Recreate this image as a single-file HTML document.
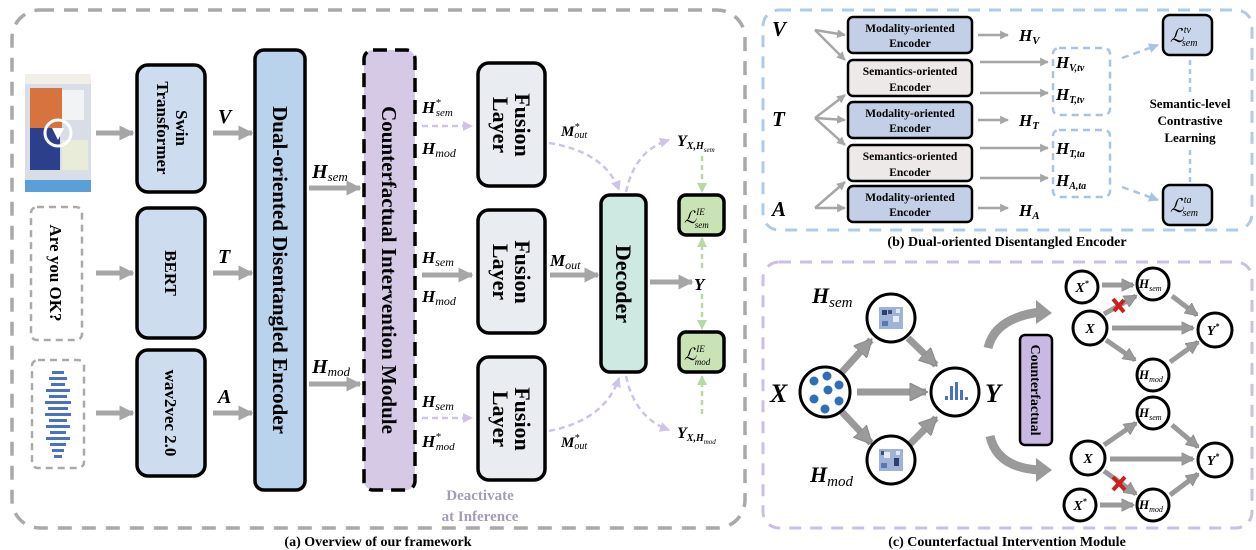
<!DOCTYPE html>
<html><head><meta charset="utf-8"><style>
html,body{margin:0;padding:0;background:#fff;}
svg{display:block;font-family:"Liberation Serif",serif;}
.b{font-weight:bold;}
.m{font-style:italic;font-weight:bold;}
</style></head><body>
<svg width="1256" height="550" viewBox="0 0 1256 550" xmlns="http://www.w3.org/2000/svg">
<defs>
<marker id="ah" viewBox="0 0 10 10" refX="9" refY="5" markerWidth="3" markerHeight="3" orient="auto"><path d="M0,0L10,5L0,10z" fill="#a6a6a6"/></marker>
<marker id="ah2" viewBox="0 0 10 10" refX="9" refY="5" markerWidth="2.6" markerHeight="2.6" orient="auto"><path d="M0,0L10,5L0,10z" fill="#9a9a9a" stroke="#888" stroke-width="0.6"/></marker>
<marker id="ap" viewBox="0 0 10 10" refX="9" refY="5" markerWidth="4" markerHeight="4" orient="auto"><path d="M0,0L10,5L0,10z" fill="#cfc3e6"/></marker>
<marker id="ag" viewBox="0 0 10 10" refX="9" refY="5" markerWidth="4" markerHeight="4" orient="auto"><path d="M0,0L10,5L0,10z" fill="#b7d9a4"/></marker>
<marker id="ab" viewBox="0 0 10 10" refX="9" refY="5" markerWidth="4" markerHeight="4" orient="auto"><path d="M0,0L10,5L0,10z" fill="#a9c4e2"/></marker>
<marker id="as" viewBox="0 0 10 10" refX="9" refY="5" markerWidth="3.5" markerHeight="3.5" orient="auto"><path d="M0,0L10,5L0,10z" fill="#a6a6a6"/></marker>
</defs>

<!-- Panels -->
<rect x="12" y="10" width="733" height="518" rx="28" fill="none" stroke="#a9a9a9" stroke-width="3.5" stroke-dasharray="14,10"/>
<rect x="763" y="10" width="489" height="220" rx="16" fill="none" stroke="#b0cbe8" stroke-width="3" stroke-dasharray="12,9"/>
<rect x="763" y="262" width="489" height="266" rx="16" fill="none" stroke="#cdbfe3" stroke-width="3" stroke-dasharray="12,9"/>
<text x="378" y="546" text-anchor="middle" class="b" font-size="14">(a) Overview of our framework</text>
<text x="1007" y="246" text-anchor="middle" class="b" font-size="14">(b) Dual-oriented Disentangled Encoder</text>
<text x="1007" y="546" text-anchor="middle" class="b" font-size="14">(c) Counterfactual Intervention Module</text>

<!-- Inputs -->
<rect x="25" y="74" width="66" height="118" fill="#d8dde6"/>
<rect x="25" y="74" width="66" height="10" fill="#f2eee8"/>
<rect x="30" y="88" width="32" height="40" fill="#d6733e"/>
<rect x="30" y="128" width="30" height="42" fill="#2c3f8a"/>
<rect x="62" y="90" width="22" height="30" fill="#f1f3f5"/>
<rect x="62" y="140" width="26" height="30" fill="#e8ecd8"/>
<rect x="25" y="180" width="66" height="12" fill="#5aa0d8"/>
<circle cx="58" cy="133" r="13" fill="none" stroke="#fff" stroke-width="3"/>
<path d="M52,128L64,128L58,140z" fill="#fff"/>
<rect x="31" y="207" width="51" height="133" rx="6" fill="none" stroke="#aaa" stroke-width="2.5" stroke-dasharray="7,5"/>
<text transform="translate(50,273) rotate(90)" text-anchor="middle" class="b" font-size="17">Are you OK?</text>
<rect x="32" y="360" width="52" height="108" rx="6" fill="none" stroke="#aaa" stroke-width="2.5" stroke-dasharray="7,5"/>
<g fill="#4a72c4">
<rect x="52" y="371" width="12" height="3"/><rect x="49" y="377" width="18" height="3"/><rect x="51" y="383" width="14" height="3"/><rect x="46" y="389" width="24" height="3"/><rect x="49" y="395" width="18" height="3"/><rect x="45" y="401" width="26" height="3"/><rect x="48" y="407" width="20" height="3"/><rect x="45" y="413" width="26" height="3"/><rect x="49" y="419" width="18" height="3"/><rect x="46" y="425" width="24" height="3"/><rect x="50" y="431" width="16" height="3"/><rect x="46" y="437" width="24" height="3"/><rect x="50" y="443" width="16" height="3"/><rect x="52" y="449" width="12" height="3"/><rect x="54" y="455" width="8" height="3"/>
</g>
<g stroke="#a6a6a6" stroke-width="5" marker-end="url(#ah)">
<line x1="96" y1="133" x2="133" y2="133"/><line x1="96" y1="273" x2="133" y2="273"/><line x1="96" y1="413" x2="133" y2="413"/>
<line x1="213" y1="133" x2="252" y2="133"/><line x1="213" y1="273" x2="252" y2="273"/><line x1="213" y1="413" x2="252" y2="413"/>
<line x1="309" y1="188" x2="360" y2="188"/><line x1="309" y1="384" x2="360" y2="384"/>
<line x1="422" y1="275" x2="472" y2="275"/><line x1="550" y1="275" x2="598" y2="275"/><line x1="650" y1="282" x2="692" y2="282"/>
</g>
<g stroke="#000" stroke-width="3.5">
<rect x="137" y="65" width="68" height="127" rx="11" fill="#cddcef"/>
<rect x="137" y="208" width="68" height="130" rx="11" fill="#cddcef"/>
<rect x="137" y="350" width="68" height="126" rx="11" fill="#cddcef"/>
<rect x="255" y="50" width="50" height="440" rx="9" fill="#b9d3ec"/>
<rect x="478" y="63" width="67" height="123" rx="11" fill="#e9edf2"/>
<rect x="478" y="210" width="67" height="123" rx="11" fill="#e9edf2"/>
<rect x="478" y="357" width="67" height="123" rx="11" fill="#e9edf2"/>
<rect x="601" y="195" width="45" height="177" rx="9" fill="#cde9e2"/>
<rect x="679" y="195" width="45" height="40" rx="7" fill="#c9e3b5"/>
<rect x="679" y="332" width="45" height="40" rx="7" fill="#c9e3b5"/>
</g>
<rect x="364" y="50" width="51" height="440" rx="9" fill="#d6c9e6" stroke="#000" stroke-width="3.5" stroke-dasharray="14,8"/>
<g class="b" font-size="17" text-anchor="middle">
<text transform="translate(171,128) rotate(90)"><tspan x="0" y="-5">Swin</tspan><tspan x="0" y="14">Transformer</tspan></text>
<text transform="translate(171,273) rotate(90)" y="6">BERT</text>
<text transform="translate(171,413) rotate(90)" y="6">wav2vec 2.0</text>
</g>
<text transform="translate(280,270) rotate(90)" text-anchor="middle" y="7" class="b" font-size="21">Dual-oriented Disentangled Encoder</text>
<text transform="translate(389,270) rotate(90)" text-anchor="middle" y="7" class="b" font-size="21">Counterfactual Intervention Module</text>
<g class="b" font-size="22" text-anchor="middle">
<text transform="translate(511,125) rotate(90)"><tspan x="0" y="-4">Fusion</tspan><tspan x="0" y="18">Layer</tspan></text>
<text transform="translate(511,272) rotate(90)"><tspan x="0" y="-4">Fusion</tspan><tspan x="0" y="18">Layer</tspan></text>
<text transform="translate(511,419) rotate(90)"><tspan x="0" y="-4">Fusion</tspan><tspan x="0" y="18">Layer</tspan></text>
<text transform="translate(623,284) rotate(90)" y="7">Decoder</text>
</g>
<g class="m" font-size="20">
<text x="218" y="123">V</text><text x="218" y="263">T</text><text x="218" y="403">A</text>
<text x="312" y="178">H<tspan font-size="13" font-weight="normal" dy="3">sem</tspan></text>
<text x="312" y="373">H<tspan font-size="13" font-weight="normal" dy="3">mod</tspan></text>
<text x="422" y="113" font-size="17">H<tspan font-size="11" dy="-7" font-weight="normal">*</tspan><tspan font-size="11" font-weight="normal" dy="10" dx="-5">sem</tspan></text>
<text x="422" y="154" font-size="17">H<tspan font-size="12" font-weight="normal" dy="3">mod</tspan></text>
<text x="422" y="263" font-size="17">H<tspan font-size="12" font-weight="normal" dy="3">sem</tspan></text>
<text x="422" y="302" font-size="17">H<tspan font-size="12" font-weight="normal" dy="3">mod</tspan></text>
<text x="422" y="407" font-size="17">H<tspan font-size="12" font-weight="normal" dy="3">sem</tspan></text>
<text x="422" y="447" font-size="17">H<tspan font-size="11" dy="-7" font-weight="normal">*</tspan><tspan font-size="11" font-weight="normal" dy="10" dx="-5">mod</tspan></text>
<text x="561" y="136" font-size="15">M<tspan font-size="10" dy="-6" font-weight="normal">*</tspan><tspan font-size="10" font-weight="normal" dy="8" dx="-5">out</tspan></text>
<text x="550" y="266" font-size="17">M<tspan font-size="12" font-weight="normal" dy="3">out</tspan></text>
<text x="561" y="447" font-size="15">M<tspan font-size="10" dy="-6" font-weight="normal">*</tspan><tspan font-size="10" font-weight="normal" dy="8" dx="-5">out</tspan></text>
<text x="694" y="290" font-size="17">Y</text>
<text x="677" y="146" font-size="16">Y<tspan font-size="10" dy="3">X,H</tspan><tspan font-size="7" font-weight="normal" dy="3">sem</tspan></text>
<text x="677" y="438" font-size="16">Y<tspan font-size="10" dy="3">X,H</tspan><tspan font-size="7" font-weight="normal" dy="3">mod</tspan></text>
</g>
<g font-style="italic" font-size="17" font-family="Liberation Serif,serif">
<text x="684" y="223">ℒ<tspan font-size="9" dy="-8">IE</tspan><tspan font-size="9" dy="13" dx="-10">sem</tspan></text>
<text x="684" y="360">ℒ<tspan font-size="9" dy="-8">IE</tspan><tspan font-size="9" dy="13" dx="-10">mod</tspan></text>
</g>
<g fill="none" stroke="#cfc3e6" stroke-width="2.5" stroke-dasharray="6,4">
<line x1="422" y1="126" x2="472" y2="126" marker-end="url(#ap)"/>
<line x1="422" y1="418" x2="472" y2="418" marker-end="url(#ap)"/>
<path d="M549,143 Q605,152 619,190" marker-end="url(#ap)"/>
<path d="M626,192 Q635,150 669,140" marker-end="url(#ap)"/>
<path d="M549,431 Q605,420 619,378" marker-end="url(#ap)"/>
<path d="M626,376 Q635,418 669,430" marker-end="url(#ap)"/>
</g>
<g stroke="#b7d9a4" stroke-width="2.5" stroke-dasharray="5,4">
<line x1="702" y1="156" x2="702" y2="192" marker-end="url(#ag)"/>
<line x1="702" y1="268" x2="702" y2="238" marker-end="url(#ag)"/>
<line x1="702" y1="294" x2="702" y2="329" marker-end="url(#ag)"/>
<line x1="702" y1="414" x2="702" y2="376" marker-end="url(#ag)"/>
</g>
<text x="480" y="500" text-anchor="middle" class="b" font-size="15" fill="#a59db6">Deactivate</text>
<text x="480" y="521" text-anchor="middle" class="b" font-size="15" fill="#a59db6">at Inference</text>

<!-- Panel b -->
<g class="m" font-size="21"><text x="772" y="36">V</text><text x="772" y="126">T</text><text x="772" y="216">A</text></g>
<g stroke="#a6a6a6" stroke-width="2.5" marker-end="url(#as)" fill="none">
<line x1="815" y1="30" x2="845" y2="35"/><line x1="815" y1="30" x2="845" y2="60"/>
<line x1="815" y1="118" x2="845" y2="95"/><line x1="815" y1="118" x2="845" y2="120"/><line x1="815" y1="118" x2="845" y2="145"/>
<line x1="815" y1="208" x2="845" y2="182"/><line x1="815" y1="208" x2="845" y2="208"/>
<line x1="978" y1="35" x2="1008" y2="35"/><line x1="978" y1="120" x2="1008" y2="120"/><line x1="978" y1="208" x2="1008" y2="208"/>
<line x1="980" y1="62" x2="1048" y2="62"/><line x1="980" y1="93" x2="1048" y2="93"/>
<line x1="980" y1="148" x2="1048" y2="148"/><line x1="980" y1="178" x2="1048" y2="178"/>
</g>
<g stroke="#000" stroke-width="2.5">
<rect x="848" y="17" width="124" height="36" rx="5" fill="#c2cfe6"/>
<rect x="848" y="60" width="124" height="36" rx="5" fill="#ece9e8"/>
<rect x="848" y="102" width="124" height="36" rx="5" fill="#c2cfe6"/>
<rect x="848" y="145" width="124" height="36" rx="5" fill="#ece9e8"/>
<rect x="848" y="186" width="124" height="36" rx="5" fill="#c2cfe6"/>
<rect x="1163" y="15" width="49" height="40" rx="7" fill="#c8d5ea"/>
<rect x="1163" y="185" width="49" height="40" rx="7" fill="#c8d5ea"/>
</g>
<g class="b" font-size="11.5" text-anchor="middle">
<text x="910" y="32">Modality-oriented</text><text x="910" y="47">Encoder</text>
<text x="910" y="75">Semantics-oriented</text><text x="910" y="91">Encoder</text>
<text x="910" y="117">Modality-oriented</text><text x="910" y="132">Encoder</text>
<text x="910" y="160">Semantics-oriented</text><text x="910" y="176">Encoder</text>
<text x="910" y="201">Modality-oriented</text><text x="910" y="216">Encoder</text>
<text x="1190" y="108" font-size="13">Semantic-level</text><text x="1190" y="125" font-size="13">Contrastive</text><text x="1190" y="142" font-size="13">Learning</text>
</g>
<g class="m" font-size="17">
<text x="1019" y="41">H<tspan font-size="11" dy="3">V</tspan></text>
<text x="1019" y="126">H<tspan font-size="11" dy="3">T</tspan></text>
<text x="1019" y="216">H<tspan font-size="11" dy="3">A</tspan></text>
<text x="1056" y="68">H<tspan font-size="10" dy="3">V,tv</tspan></text>
<text x="1056" y="100">H<tspan font-size="10" dy="3">T,tv</tspan></text>
<text x="1056" y="154">H<tspan font-size="10" dy="3">T,ta</tspan></text>
<text x="1056" y="186">H<tspan font-size="10" dy="3">A,ta</tspan></text>
</g>
<g font-style="italic" font-size="19">
<text x="1170" y="42">ℒ<tspan font-size="10" dy="-9">tv</tspan><tspan font-size="10" dy="13" dx="-9">sem</tspan></text>
<text x="1170" y="212">ℒ<tspan font-size="10" dy="-9">ta</tspan><tspan font-size="10" dy="13" dx="-9">sem</tspan></text>
</g>
<g fill="none" stroke="#a9c4e2" stroke-width="2.5" stroke-dasharray="7,5">
<rect x="1053" y="48" width="57" height="67" rx="6"/>
<rect x="1053" y="130" width="57" height="67" rx="6"/>
<line x1="1122" y1="58" x2="1158" y2="45" marker-end="url(#ab)"/>
<line x1="1122" y1="187" x2="1158" y2="200" marker-end="url(#ab)"/>
<line x1="1190" y1="60" x2="1190" y2="93" stroke-dasharray="5,4"/>
<line x1="1190" y1="150" x2="1190" y2="182" stroke-dasharray="5,4"/>
</g>

<!-- Panel c -->
<g stroke="#9a9a9a" stroke-width="7" marker-end="url(#ah2)">
<line x1="842" y1="372" x2="871" y2="340"/><line x1="908" y1="338" x2="936" y2="365"/>
<line x1="857" y1="392" x2="926" y2="392"/>
<line x1="842" y1="412" x2="871" y2="443"/><line x1="908" y1="446" x2="936" y2="418"/>
</g>
<g stroke="#9a9a9a" stroke-width="5" marker-end="url(#ah2)">
<line x1="1102" y1="285" x2="1133" y2="285"/><line x1="1172" y1="296" x2="1197" y2="315"/>
<line x1="1112" y1="328" x2="1193" y2="328"/><line x1="1106" y1="340" x2="1135" y2="360"/><line x1="1170" y1="362" x2="1198" y2="342"/>
<line x1="1104" y1="445" x2="1136" y2="423"/><line x1="1172" y1="425" x2="1198" y2="447"/>
<line x1="1110" y1="459" x2="1193" y2="459"/><line x1="1170" y1="495" x2="1198" y2="474"/>
<line x1="1100" y1="505" x2="1133" y2="505"/>
<line x1="1104" y1="314" x2="1136" y2="296"/><line x1="1104" y1="471" x2="1136" y2="494"/>
</g>
<g stroke="#cc1f1f" stroke-width="4"><line x1="1113" y1="299" x2="1124" y2="312"/><line x1="1124" y1="300" x2="1114" y2="311"/>
<line x1="1113" y1="477" x2="1125" y2="490"/><line x1="1125" y1="477" x2="1113" y2="490"/></g>
<path d="M988,348 Q995,318 1040,312" fill="none" stroke="#9a9a9a" stroke-width="9"/><path d="M1036,300L1052,313L1036,324z" fill="#9a9a9a"/>
<path d="M990,436 Q997,468 1040,470" fill="none" stroke="#9a9a9a" stroke-width="9"/><path d="M1036,458L1052,470L1036,482z" fill="#9a9a9a"/>
<rect x="1020" y="335" width="32" height="110" rx="5" fill="#c9b8e4" stroke="#000" stroke-width="2.5"/>
<text transform="translate(1036,390) rotate(90)" text-anchor="middle" y="5" class="b" font-size="14">Counterfactual</text>
<g fill="#fff" stroke="#000" stroke-width="3">
<circle cx="891" cy="318" r="24"/><circle cx="825" cy="392" r="25"/><circle cx="955" cy="392" r="24"/><circle cx="891" cy="460" r="24"/>
<circle cx="1082" cy="287" r="16"/><circle cx="1153" cy="284" r="16"/><circle cx="1090" cy="328" r="17"/><circle cx="1215" cy="330" r="17"/><circle cx="1153" cy="375" r="16"/>
<circle cx="1153" cy="413" r="16"/><circle cx="1088" cy="458" r="17"/><circle cx="1215" cy="460" r="17"/><circle cx="1080" cy="505" r="16"/><circle cx="1153" cy="505" r="16"/>
</g>
<g fill="#2f6fb8"><circle cx="814" cy="381" r="4.5"/><circle cx="827" cy="376" r="4.5"/><circle cx="839" cy="385" r="4.5"/><circle cx="828" cy="390" r="4.5"/><circle cx="814" cy="399" r="4.5"/><circle cx="839" cy="401" r="4.5"/><circle cx="825" cy="409" r="4.5"/></g>
<g fill="#4a72c4"><rect x="945" y="396" width="3" height="4"/><rect x="950" y="386" width="3" height="14"/><rect x="955" y="382" width="3" height="18"/><rect x="960" y="390" width="3" height="10"/><rect x="965" y="397" width="3" height="3"/></g>
<g><rect x="879" y="307" width="24" height="22" fill="#9fb3d6"/><rect x="882" y="310" width="5" height="5" fill="#2c3f6e"/><rect x="893" y="316" width="6" height="6" fill="#e6ecf5"/><rect x="882" y="321" width="6" height="5" fill="#5a78b0"/><rect x="888" y="310" width="4" height="4" fill="#3c4f7e"/><rect x="896" y="309" width="4" height="4" fill="#dfe6f2"/>
<rect x="879" y="449" width="24" height="22" fill="#9fb3d6"/><rect x="884" y="452" width="6" height="6" fill="#e6ecf5"/><rect x="894" y="458" width="5" height="8" fill="#2c3f6e"/><rect x="881" y="463" width="6" height="5" fill="#5a78b0"/><rect x="881" y="451" width="3" height="4" fill="#3c4f7e"/><rect x="896" y="451" width="4" height="4" fill="#dfe6f2"/></g>
<g class="m" font-size="26"><text x="770" y="402">X</text><text x="985" y="402">Y</text></g>
<g class="m" font-size="22">
<text x="812" y="303">H<tspan font-size="15" font-weight="normal" dy="4">sem</tspan></text>
<text x="810" y="482">H<tspan font-size="15" font-weight="normal" dy="4">mod</tspan></text>
</g>
<g class="m" font-size="14" text-anchor="middle">
<text x="1082" y="292">X<tspan font-size="8" dy="-6">*</tspan></text>
<text x="1090" y="333">X</text><text x="1213" y="335">Y<tspan font-size="8" dy="-6">*</tspan></text>
<text x="1088" y="463">X</text><text x="1213" y="465">Y<tspan font-size="8" dy="-6">*</tspan></text>
<text x="1080" y="510">X<tspan font-size="8" dy="-6">*</tspan></text>
</g>
<g class="m" font-size="13">
<text x="1139" y="288">H<tspan font-size="8" font-weight="normal" dy="3">sem</tspan></text>
<text x="1139" y="379">H<tspan font-size="8" font-weight="normal" dy="3">mod</tspan></text>
<text x="1139" y="417">H<tspan font-size="8" font-weight="normal" dy="3">sem</tspan></text>
<text x="1139" y="509">H<tspan font-size="8" font-weight="normal" dy="3">mod</tspan></text>
</g>
</svg>
</body></html>
